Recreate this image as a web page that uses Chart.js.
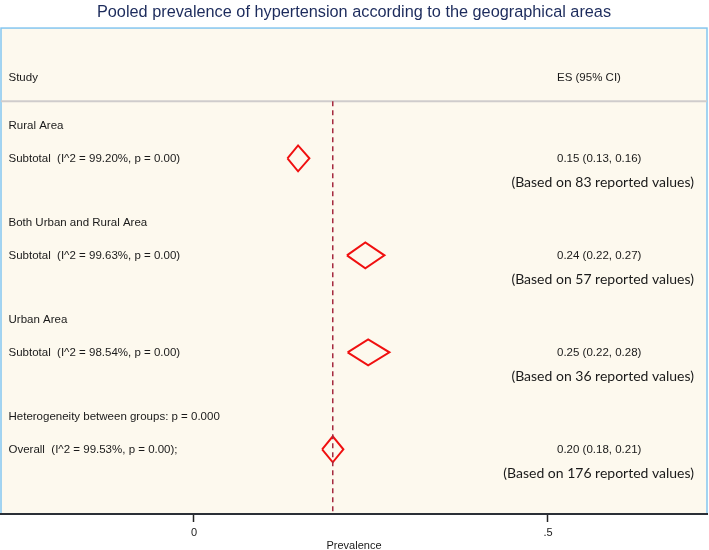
<!DOCTYPE html>
<html>
<head>
    <title>Pooled prevalence of hypertension according to the geographical areas</title>
    <script src="https://cdn.jsdelivr.net/npm/chart.js@4.4.1/dist/chart.umd.min.js"></script>
    <style>
        body { margin: 0; background: #fff; }
    </style>
</head>
<body>

<canvas id="forestChart" width="709" height="550"></canvas>

<script>
    // rows of the left column (row index = position in list, '' = empty row)
    var leftLabels = [
        'Rural Area',
        'Subtotal  (I^2 = 99.20%, p = 0.00)',
        '',
        'Both Urban and Rural Area',
        'Subtotal  (I^2 = 99.63%, p = 0.00)',
        '',
        'Urban Area',
        'Subtotal  (I^2 = 98.54%, p = 0.00)',
        '',
        'Heterogeneity between groups: p = 0.000',
        'Overall  (I^2 = 99.53%, p = 0.00);'
    ];

    // pooled estimates (subtotals + overall)
    var pooledRows = [1, 4, 7, 10];
    var esValues = [0.147, 0.242, 0.246, 0.196];
    var ciLower  = [0.132, 0.216, 0.217, 0.181];
    var ciUpper  = [0.163, 0.269, 0.276, 0.211];
    var esLabels = ['0.15 (0.13, 0.16)', '0.24 (0.22, 0.27)', '0.25 (0.22, 0.28)', '0.20 (0.18, 0.21)'];
    var reportedValues = [83, 57, 36, 176];

    var xTicks = [0, 0.5];
    var xTickLabels = ['0', '.5'];

    var diamondHalf = 0.4;
    var headerRow = -1.5;
    var headerLineRow = -0.77;
    var overallIndex = 3;

    var datasets = [];
    // dashed line at overall estimate
    datasets.push({
        data: [{x: esValues[overallIndex], y: headerLineRow}, {x: esValues[overallIndex], y: 12}],
        showLine: true,
        borderColor: '#a52a3f',
        borderWidth: 1.5,
        borderDash: [5, 4],
        pointRadius: 0
    });
    // diamonds
    for (var i = 0; i < pooledRows.length; i++) {
        var r = pooledRows[i];
        datasets.push({
            data: [
                {x: ciLower[i], y: r},
                {x: esValues[i], y: r - diamondHalf},
                {x: ciUpper[i], y: r},
                {x: esValues[i], y: r + diamondHalf},
                {x: ciLower[i], y: r}
            ],
            showLine: true,
            borderColor: '#f01010',
            borderWidth: 2,
            borderJoinStyle: 'miter',
            pointRadius: 0
        });
    }

    var forestText = {
        id: 'forestText',
        beforeDraw: function(chart) {
            var c = chart.ctx, a = chart.chartArea, y = chart.scales.y;
            c.save();
            c.fillStyle = '#ffffff';
            c.fillRect(0, 0, chart.width, chart.height);
            c.fillStyle = '#fdf9ee';
            c.fillRect(a.left, a.top, a.right - a.left, a.bottom - a.top);
            c.strokeStyle = '#84c6ef';
            c.lineWidth = 1.5;
            c.strokeRect(a.left, a.top, a.right - a.left, a.bottom - a.top);
            // header separator
            var hy = y.getPixelForValue(headerLineRow);
            c.strokeStyle = '#cfcccc';
            c.lineWidth = 2;
            c.beginPath();
            c.moveTo(a.left, hy);
            c.lineTo(a.right, hy);
            c.stroke();
            c.restore();
        },
        afterDraw: function(chart) {
            var c = chart.ctx, a = chart.chartArea, y = chart.scales.y;
            var leftX = a.left + 7.5;
            var esX = a.right - 150;
            var basedX = a.right - 13;
            c.save();
            c.fillStyle = '#1a1a1a';
            c.textBaseline = 'middle';
            c.font = '11.5px "Liberation Sans", Arial, sans-serif';
            c.textAlign = 'left';
            c.fillText('Study', leftX, y.getPixelForValue(headerRow));
            c.fillText('ES (95% CI)', esX, y.getPixelForValue(headerRow));
            leftLabels.forEach(function(t, idx) {
                if (t) c.fillText(t, leftX, y.getPixelForValue(idx));
            });
            esLabels.forEach(function(t, idx) {
                c.fillText(t, esX, y.getPixelForValue(pooledRows[idx]));
            });
            c.font = '14px Lato, "Open Sans", sans-serif';
            c.textAlign = 'right';
            reportedValues.forEach(function(n, idx) {
                c.fillText('(Based on ' + n + ' reported values)', basedX, y.getPixelForValue(pooledRows[idx] + 0.75));
            });
            c.restore();
        }
    };

    var ctx = document.getElementById('forestChart').getContext('2d');
    var chart = new Chart(ctx, {
        type: 'scatter',
        data: { datasets: datasets },
        options: {
            responsive: false,
            animation: false,
            layout: { padding: { left: 1, right: 2, top: 0, bottom: 0 } },
            plugins: {
                legend: { display: false },
                tooltip: { enabled: false },
                title: {
                    display: true,
                    text: 'Pooled prevalence of hypertension according to the geographical areas',
                    color: '#1c2b5c',
                    font: { family: '"Liberation Sans", Arial, sans-serif', size: 16.3, weight: 'normal', lineHeight: 1.2 },
                    padding: { top: 3, bottom: 5.5 }
                }
            },
            scales: {
                x: {
                    type: 'linear',
                    min: -0.2726,
                    max: 0.7246,
                    afterBuildTicks: function(scale) {
                        scale.ticks = xTicks.map(function(v) { return {value: v}; });
                    },
                    ticks: {
                        autoSkip: false,
                        maxRotation: 0,
                        color: '#1a1a1a',
                        padding: 5,
                        font: { family: '"Liberation Sans", Arial, sans-serif', size: 11, lineHeight: 1 },
                        callback: function(v) {
                            var k = xTicks.indexOf(v);
                            return k >= 0 ? xTickLabels[k] : '';
                        }
                    },
                    grid: {
                        display: true,
                        drawOnChartArea: false,
                        drawTicks: true,
                        tickLength: 8,
                        tickColor: '#222',
                        tickWidth: 1.5
                    },
                    border: { display: true, color: '#2b2f36', width: 2 },
                    title: {
                        display: true,
                        text: 'Prevalence',
                        color: '#1a1a1a',
                        font: { family: '"Liberation Sans", Arial, sans-serif', size: 11, lineHeight: 1 },
                        padding: { top: -3, bottom: -1 }
                    }
                },
                y: {
                    type: 'linear',
                    display: false,
                    reverse: true,
                    min: -3.03,
                    max: 12
                }
            }
        },
        plugins: [forestText]
    });
</script>
</body>
</html>
